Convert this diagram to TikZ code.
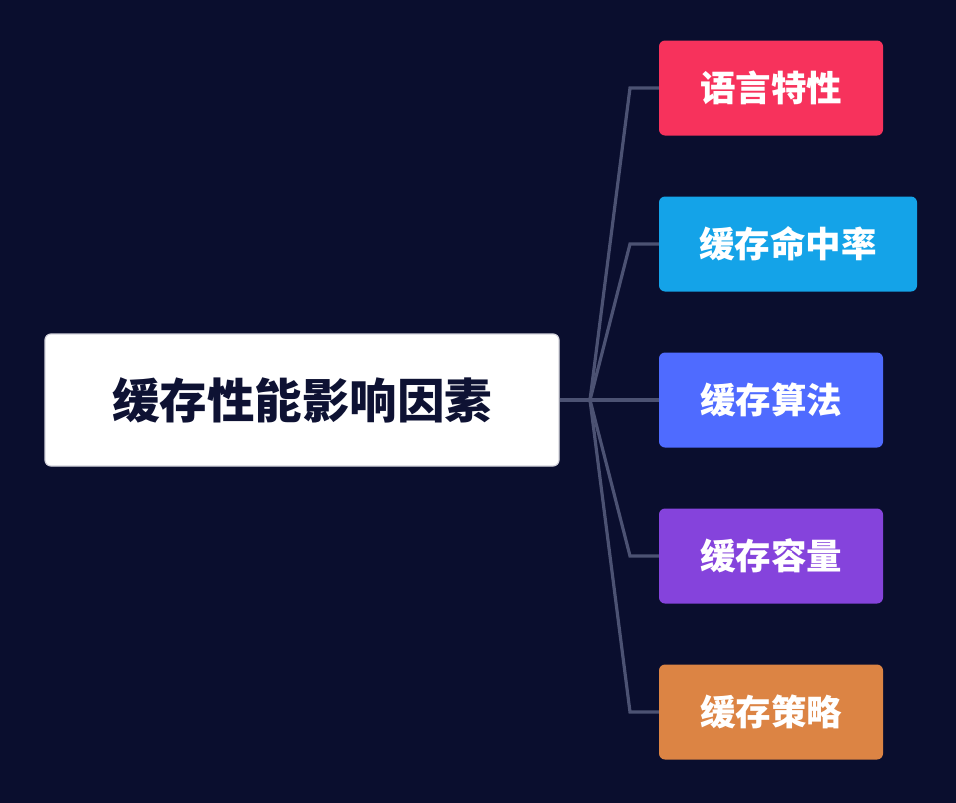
\documentclass[tikz,border=0pt]{standalone}
\usepackage{fontspec}
\newfontfamily\cjk{Noto Sans CJK SC}
\definecolor{bg}{HTML}{0A0E2E}
\definecolor{linec}{HTML}{4C5273}
\definecolor{rootborder}{HTML}{D4D4DC}
\definecolor{roottext}{HTML}{0E1233}
\definecolor{cred}{HTML}{F7325C}
\definecolor{cblue}{HTML}{14A3E8}
\definecolor{cindigo}{HTML}{4F6BFF}
\definecolor{cpurple}{HTML}{8543DC}
\definecolor{corange}{HTML}{DC8444}
\begin{document}
\begin{tikzpicture}[x=1pt,y=-1pt,
  rootbox/.style={draw=rootborder,line width=1.2pt,fill=white,rounded corners=6pt,minimum width=514pt,minimum height=132pt,inner sep=0pt,font=\cjk\bfseries\fontsize{47.5}{52}\selectfont,text=roottext},
  leaf/.style={rounded corners=6pt,minimum height=95pt,inner sep=0pt,font=\cjk\bfseries\fontsize{35.5}{40}\selectfont,text=white},
  conn/.style={draw=linec,line width=3.2pt}]
\fill[bg] (0,0) rectangle (956,803);
\useasboundingbox (0,0) rectangle (956,803);
\node[rootbox] (root) at (302,400) {缓存性能影响因素};
\node[leaf,fill=cred,minimum width=224pt] (c1) at (771,88) {语言特性};
\node[leaf,fill=cblue,minimum width=258pt] (c2) at (788,244) {缓存命中率};
\node[leaf,fill=cindigo,minimum width=224pt] (c3) at (771,400) {缓存算法};
\node[leaf,fill=cpurple,minimum width=224pt] (c4) at (771,556) {缓存容量};
\node[leaf,fill=corange,minimum width=224pt] (c5) at (771,712) {缓存策略};
\coordinate (hub) at (590,400);
\draw[conn] (root.east) -- (hub);
\draw[conn] (hub) -- (630,88) -- (c1.west);
\draw[conn] (hub) -- (630,244) -- (c2.west);
\draw[conn] (hub) -- (c3.west);
\draw[conn] (hub) -- (630,556) -- (c4.west);
\draw[conn] (hub) -- (630,712) -- (c5.west);
\end{tikzpicture}
\end{document}
